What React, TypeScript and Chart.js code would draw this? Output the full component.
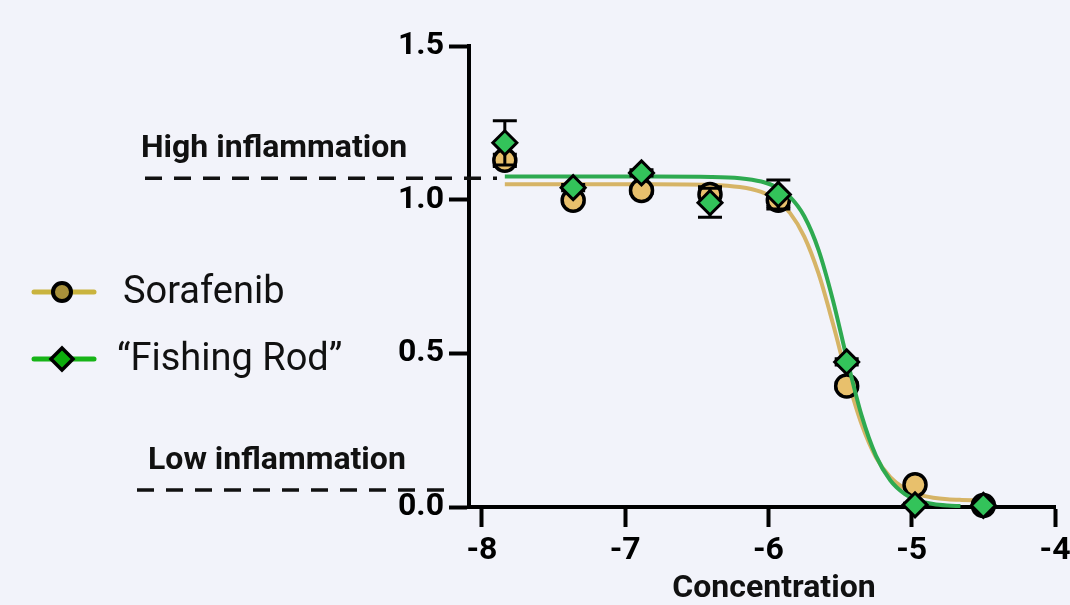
import React, { useEffect, useRef } from "react";
import { Chart, registerables } from "chart.js";

Chart.register(...registerables);

// ---- data ----
const seriesNames = ["Sorafenib", "\u201CFishing Rod\u201D"];
const logConc = [-7.84, -7.363, -6.886, -6.408, -5.931, -5.454, -4.977, -4.5];
const sorafenibMean = [1.128, 0.998, 1.03, 1.017, 0.998, 0.394, 0.072, 0.005];
const sorafenibErr = [0.02, 0.01, 0.01, 0.025, 0.02, 0.01, 0.01, 0.0];
const fishingMean = [1.185, 1.039, 1.087, 0.99, 1.017, 0.472, 0.007, 0.005];
const fishingErr = [0.072, 0.01, 0.01, 0.047, 0.047, 0.01, 0.005, 0.0];

const sorafenibFitX = [-7.84, -6.8, -6.4, -6.2, -6.05, -5.95, -5.85, -5.75, -5.65, -5.55, -5.45, -5.35, -5.25, -5.15, -5.05, -4.95, -4.85, -4.75, -4.65, -4.54];
const sorafenibFitY = [1.05, 1.05, 1.048, 1.041, 1.025, 1.001, 0.957, 0.88, 0.759, 0.597, 0.421, 0.27, 0.162, 0.097, 0.06, 0.04, 0.03, 0.025, 0.023, 0.022];
const fishingFitX = [-7.84, -6.8, -6.4, -6.2, -6.05, -5.95, -5.85, -5.75, -5.65, -5.55, -5.45, -5.35, -5.25, -5.15, -5.05, -4.95, -4.85, -4.75, -4.66];
const fishingFitY = [1.075, 1.075, 1.074, 1.07, 1.059, 1.042, 1.009, 0.946, 0.836, 0.673, 0.478, 0.298, 0.167, 0.087, 0.043, 0.021, 0.01, 0.005, 0.003];

const xTicks = [-8, -7, -6, -5, -4];
const yTicks = [0, 0.5, 1.0, 1.5];
const xRange = [-8.09, -4];
const yRange = [0, 1.5];
const thresholdLabels = ["High inflammation", "Low inflammation"];
const thresholdValues = [1.07, 0.055];
const xAxisTitle = "Concentration";

// ---- styles ----
const BG = "#F2F3FA";
const TAN_FILL = "#E8C06C";
const TAN_LINE = "#D6B466";
const GREEN_FILL = "#33C35A";
const GREEN_LINE = "#2EAA50";
const LEG_TAN_FILL = "#A8903A";
const LEG_TAN_LINE = "#C9B33E";
const LEG_GREEN_FILL = "#0DAE0D";
const LEG_GREEN_LINE = "#17B417";
const FONT = "Roboto";

function drawErrorBars(chart: any, means: number[], errs: number[]) {
  const ctx = chart.ctx;
  const xs = chart.scales.x;
  const ys = chart.scales.y;
  ctx.save();
  ctx.strokeStyle = "#000";
  ctx.lineWidth = 3;
  for (let i = 0; i < logConc.length; i++) {
    if (!errs[i]) continue;
    const x = xs.getPixelForValue(logConc[i]);
    const yTop = ys.getPixelForValue(means[i] + errs[i]);
    const yBot = ys.getPixelForValue(means[i] - errs[i]);
    ctx.beginPath();
    ctx.moveTo(x, yTop);
    ctx.lineTo(x, yBot);
    ctx.moveTo(x - 12, yTop);
    ctx.lineTo(x + 12, yTop);
    ctx.moveTo(x - 12, yBot);
    ctx.lineTo(x + 12, yBot);
    ctx.stroke();
  }
  ctx.restore();
}

const errorBarPlugin = {
  id: "errorBars",
  beforeDatasetDraw(chart: any, args: any) {
    const ds = chart.data.datasets[args.index];
    if (ds.id === "soraPts") drawErrorBars(chart, sorafenibMean, sorafenibErr);
    if (ds.id === "fishPts") drawErrorBars(chart, fishingMean, fishingErr);
  },
};

const decorPlugin = {
  id: "decor",
  afterDraw(chart: any) {
    const ctx = chart.ctx;
    const ys = chart.scales.y;
    const xs = chart.scales.x;
    ctx.save();
    // x-axis title
    ctx.fillStyle = "#111";
    ctx.font = `bold 32px ${FONT}`;
    ctx.textAlign = "center";
    ctx.textBaseline = "middle";
    ctx.fillText(xAxisTitle, (xs.left + xs.right) / 2 + 12, 589);

    // threshold annotations
    const textX = [141, 148];
    const lineX0 = [145, 137];
    const lineX1 = [497, 453];
    ctx.fillStyle = "#111";
    ctx.strokeStyle = "#111";
    ctx.font = `bold 32px ${FONT}`;
    ctx.textBaseline = "alphabetic";
    ctx.textAlign = "left";
    for (let i = 0; i < thresholdLabels.length; i++) {
      const y = ys.getPixelForValue(thresholdValues[i]);
      ctx.fillText(thresholdLabels[i], textX[i], y - 21);
      ctx.beginPath();
      ctx.setLineDash([17, 12]);
      ctx.lineWidth = 3.5;
      ctx.moveTo(lineX0[i], y);
      ctx.lineTo(lineX1[i], y);
      ctx.stroke();
    }
    ctx.setLineDash([]);

    // legend
    const rows = [
      { y: 292, line: LEG_TAN_LINE, fill: LEG_TAN_FILL, style: "circle", textX: 123 },
      { y: 359, line: LEG_GREEN_LINE, fill: LEG_GREEN_FILL, style: "diamond", textX: 117 },
    ];
    rows.forEach((r, i) => {
      ctx.lineCap = "round";
      ctx.lineWidth = 5;
      ctx.strokeStyle = r.line;
      ctx.beginPath();
      ctx.moveTo(34, r.y);
      ctx.lineTo(94, r.y);
      ctx.stroke();
      ctx.lineCap = "butt";
      ctx.fillStyle = r.fill;
      ctx.strokeStyle = "#000";
      ctx.beginPath();
      if (r.style === "circle") {
        ctx.lineWidth = 4;
        ctx.arc(62, r.y, 9, 0, Math.PI * 2);
      } else {
        ctx.lineWidth = 3.5;
        ctx.moveTo(62, r.y - 11);
        ctx.lineTo(73, r.y);
        ctx.lineTo(62, r.y + 11);
        ctx.lineTo(51, r.y);
        ctx.closePath();
      }
      ctx.fill();
      ctx.stroke();
      ctx.fillStyle = "#111";
      ctx.font = `38px ${FONT}`;
      ctx.textBaseline = "middle";
      ctx.fillText(seriesNames[i], r.textX, r.y + 1);
    });
    ctx.restore();
  },
};

export default function App() {
  const ref = useRef<HTMLCanvasElement | null>(null);

  useEffect(() => {
    document.body.style.margin = "0";
    document.body.style.background = BG;
    const canvas = ref.current!;
    const tickFont = { family: FONT, weight: "bold" as const, size: 32 };
    const chart = new Chart(canvas, {
      type: "scatter",
      data: {
        datasets: [
          {
            id: "fishPts",
            label: seriesNames[1],
            data: logConc.map((x, i) => ({ x, y: fishingMean[i] })),
            pointStyle: "rectRot",
            pointRadius: 12,
            pointBorderWidth: 3,
            backgroundColor: GREEN_FILL,
            borderColor: "#000",
            showLine: false,
            clip: false,
            order: 0,
          } as any,
          {
            id: "fishFit",
            label: seriesNames[1] + " fit",
            data: fishingFitX.map((x, i) => ({ x, y: fishingFitY[i] })),
            showLine: true,
            borderColor: GREEN_LINE,
            borderWidth: 4,
            pointRadius: 0,
            cubicInterpolationMode: "monotone",
            clip: false,
            order: 1,
          },
          {
            id: "soraPts",
            label: seriesNames[0],
            data: logConc.map((x, i) => ({ x, y: sorafenibMean[i] })),
            pointStyle: "circle",
            pointRadius: 11,
            pointBorderWidth: 3.5,
            backgroundColor: TAN_FILL,
            borderColor: "#000",
            showLine: false,
            clip: false,
            order: 2,
          },
          {
            id: "soraFit",
            label: seriesNames[0] + " fit",
            data: sorafenibFitX.map((x, i) => ({ x, y: sorafenibFitY[i] })),
            showLine: true,
            borderColor: TAN_LINE,
            borderWidth: 4,
            pointRadius: 0,
            cubicInterpolationMode: "monotone",
            clip: false,
            order: 3,
          },
        ] as any,
      },
      options: {
        responsive: false,
        animation: false,
        devicePixelRatio: 1,
        layout: { padding: { top: 46, right: 12, left: 0, bottom: 0 } },
        plugins: { legend: { display: false }, tooltip: { enabled: false } },
        scales: {
          x: {
            type: "linear",
            min: xRange[0],
            max: xRange[1],
            afterBuildTicks: (s: any) => {
              s.ticks = xTicks.map((v) => ({ value: v }));
            },
            ticks: {
              font: tickFont,
              color: "#000",
              padding: 5,
              maxRotation: 0,
              callback: (v: any) => String(v),
            },
            grid: {
              display: true,
              drawOnChartArea: false,
              drawTicks: true,
              tickLength: 20,
              tickWidth: 4,
              tickColor: "#000",
            },
            border: { display: true, width: 4, color: "#000" },
            title: { display: false },
            afterFit: (s: any) => {
              s.height = 98;
              s.paddingLeft = 0;
              s.paddingRight = 0;
            },
          },
          y: {
            type: "linear",
            min: yRange[0],
            max: yRange[1],
            afterBuildTicks: (s: any) => {
              s.ticks = yTicks.map((v) => ({ value: v }));
            },
            ticks: {
              font: tickFont,
              color: "#000",
              padding: 5,
              callback: (v: any) => Number(v).toFixed(1),
            },
            grid: {
              display: true,
              drawOnChartArea: false,
              drawTicks: true,
              tickLength: 20,
              tickWidth: 4,
              tickColor: "#000",
            },
            border: { display: true, width: 4, color: "#000" },
            afterFit: (s: any) => {
              s.width = 469;
              s.paddingTop = 0;
              s.paddingBottom = 0;
            },
          },
        },
      } as any,
      plugins: [errorBarPlugin, decorPlugin],
    });
    if ((document as any).fonts && (document as any).fonts.ready) {
      (document as any).fonts.ready.then(() => chart.update());
    }
    return () => chart.destroy();
  }, []);

  return (
    <div
      style={{
        position: "fixed",
        left: 0,
        top: 0,
        width: 1070,
        height: 605,
        background: BG,
      }}
    >
      <canvas ref={ref} width={1070} height={605} style={{ width: 1070, height: 605, display: "block" }} />
    </div>
  );
}
